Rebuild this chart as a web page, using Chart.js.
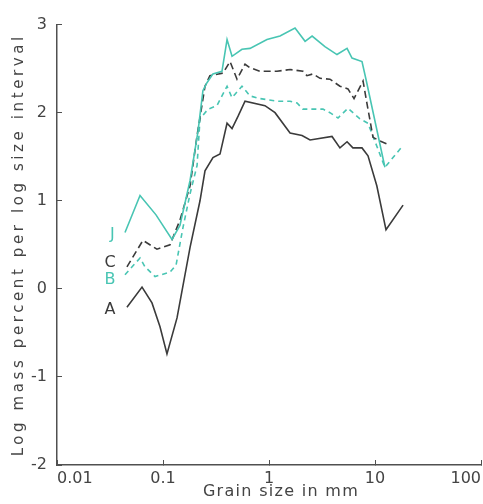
<!DOCTYPE html>
<html>
<head>
<meta charset="utf-8">
<script src="https://cdn.jsdelivr.net/npm/chart.js@4.4.1/dist/chart.umd.min.js"></script>
<style>
  html, body { margin: 0; padding: 0; background: #fff; }
  #wrap { width: 483px; height: 504px; }
</style>
</head>
<body>
<div id="wrap"><canvas id="grainChart"></canvas></div>
<script>
// grain size (mm) and log mass percent per log size interval
const jSize = [0.0438, 0.0607, 0.0859, 0.1216, 0.1445, 0.180, 0.214, 0.238, 0.260, 0.296, 0.360, 0.402, 0.448, 0.556, 0.662, 0.957, 1.27, 1.76, 2.19, 2.55, 3.37, 4.38, 5.45, 6.07, 7.54, 8.22, 12.4];
const jValue = [0.64, 1.06, 0.84, 0.56, 0.72, 1.23, 1.79, 2.25, 2.34, 2.44, 2.47, 2.83, 2.64, 2.72, 2.73, 2.83, 2.87, 2.96, 2.81, 2.87, 2.75, 2.66, 2.73, 2.62, 2.58, 2.38, 1.38];

const cSize = [0.0457, 0.0647, 0.0877, 0.1164, 0.1445, 0.180, 0.2096, 0.249, 0.277, 0.368, 0.429, 0.499, 0.594, 0.662, 0.823, 1.19, 1.58, 2.09, 2.28, 2.60, 3.03, 3.76, 4.67, 5.56, 6.34, 7.71, 8.41, 9.58, 11.1, 13.3];
const cValue = [0.25, 0.55, 0.45, 0.50, 0.78, 1.17, 1.74, 2.30, 2.42, 2.45, 2.58, 2.38, 2.55, 2.51, 2.47, 2.47, 2.49, 2.47, 2.42, 2.44, 2.39, 2.38, 2.30, 2.27, 2.16, 2.36, 2.10, 1.72, 1.68, 1.64];

const bSize = [0.0438, 0.0607, 0.0676, 0.0841, 0.1164, 0.1328, 0.1546, 0.180, 0.2096, 0.2234, 0.266, 0.323, 0.360, 0.402, 0.448, 0.478, 0.556, 0.662, 0.823, 1.19, 1.58, 1.84, 2.09, 3.23, 3.76, 4.48, 5.56, 7.21, 8.59, 12.4, 17.6];
const bValue = [0.16, 0.35, 0.25, 0.14, 0.19, 0.27, 0.70, 1.08, 1.40, 1.93, 2.04, 2.08, 2.19, 2.30, 2.17, 2.21, 2.30, 2.19, 2.16, 2.13, 2.13, 2.11, 2.04, 2.04, 2.00, 1.94, 2.05, 1.93, 1.88, 1.38, 1.60];

const aSize = [0.0457, 0.0634, 0.0787, 0.0937, 0.109, 0.1356, 0.180, 0.2234, 0.249, 0.296, 0.345, 0.402, 0.448, 0.511, 0.594, 0.916, 1.14, 1.58, 2.05, 2.44, 3.93, 4.67, 5.45, 6.19, 7.54, 8.59, 10.4, 12.7, 18.4];
const aValue = [-0.21, 0.02, -0.16, -0.43, -0.74, -0.33, 0.47, 1.00, 1.34, 1.49, 1.53, 1.88, 1.82, 1.96, 2.13, 2.08, 2.00, 1.77, 1.74, 1.69, 1.73, 1.60, 1.67, 1.60, 1.60, 1.51, 1.17, 0.67, 0.95];

const seriesNames = ['J', 'C', 'B', 'A'];
const nameSize = [0.0333, 0.0316, 0.0316, 0.0316];
const nameValue = [0.61, 0.29, 0.10, -0.24];

const xTicks = [0.01, 0.1, 1, 10, 100];
const yTicks = [-2, -1, 0, 1, 2, 3];

const TEAL = '#48c5b3';
const DARK = '#3b3b3b';
const AXIS = '#505050';

const pts = (xs, ys) => xs.map((x, i) => ({ x: x, y: ys[i] }));

const nameColors = [TEAL, DARK, TEAL, DARK];

// letters next to each curve plus the two axis titles
const labelPlugin = {
  id: 'labels',
  afterDraw(chart) {
    const ctx = chart.ctx;
    const xs = chart.scales.x, ys = chart.scales.y;
    const area = chart.chartArea;
    ctx.save();
    ctx.font = '16px "DejaVu Sans"';
    ctx.textAlign = 'center';
    ctx.textBaseline = 'middle';
    seriesNames.forEach((n, i) => {
      ctx.fillStyle = nameColors[i];
      ctx.fillText(n, xs.getPixelForValue(nameSize[i]), ys.getPixelForValue(nameValue[i]));
    });

    ctx.fillStyle = '#444';
    ctx.letterSpacing = '1.3px';
    ctx.fillText('Grain size in mm', (area.left + area.right) / 2 + 12, 492);

    ctx.font = '15px "DejaVu Sans"';
    ctx.letterSpacing = '3.6px';
    ctx.translate(19, (area.top + area.bottom) / 2);
    ctx.rotate(-Math.PI / 2);
    ctx.fillText('Log mass percent per log size interval', 0, 0);
    ctx.restore();
  }
};

const ctx = document.getElementById('grainChart').getContext('2d');
const grainChart = new Chart(ctx, {
  type: 'line',
  data: {
    datasets: [
      { label: 'J', data: pts(jSize, jValue), borderColor: TEAL, borderWidth: 1.6 },
      { label: 'C', data: pts(cSize, cValue), borderColor: DARK, borderWidth: 1.6, borderDash: [7, 4] },
      { label: 'B', data: pts(bSize, bValue), borderColor: TEAL, borderWidth: 1.6, borderDash: [5, 4] },
      { label: 'A', data: pts(aSize, aValue), borderColor: DARK, borderWidth: 1.6 }
    ]
  },
  options: {
    responsive: true,
    maintainAspectRatio: false,
    animation: false,
    layout: { padding: { top: 22, right: 2, left: 0, bottom: 0 } },
    elements: { point: { radius: 0 }, line: { tension: 0, fill: false } },
    plugins: { legend: { display: false }, tooltip: { enabled: false } },
    scales: {
      x: {
        type: 'logarithmic',
        min: 0.01,
        max: 100,
        afterBuildTicks: (scale) => { scale.ticks = xTicks.map(v => ({ value: v, major: true })); },
        afterFit: (scale) => { scale.height = 39; scale.paddingLeft = 0; scale.paddingRight = 0; },
        border: { display: true, color: AXIS, width: 1.5 },
        grid: { drawOnChartArea: false, tickLength: -5, color: AXIS, lineWidth: 1 },
        ticks: {
          autoSkip: false,
          maxRotation: 0,
          align: 'inner',
          padding: 9,
          color: '#444',
          font: { family: 'DejaVu Sans', size: 16 },
          callback: (v) => String(v)
        }
      },
      y: {
        min: -2,
        max: 3,
        afterBuildTicks: (scale) => { scale.ticks = yTicks.map(v => ({ value: v })); },
        afterFit: (scale) => { scale.width = 57; },
        border: { display: true, color: AXIS, width: 1.5 },
        grid: { drawOnChartArea: false, tickLength: -5, color: AXIS, lineWidth: 1 },
        ticks: {
          padding: 15,
          color: '#444',
          font: { family: 'DejaVu Sans', size: 16 }
        }
      }
    }
  },
  plugins: [labelPlugin]
});
</script>
</body>
</html>
